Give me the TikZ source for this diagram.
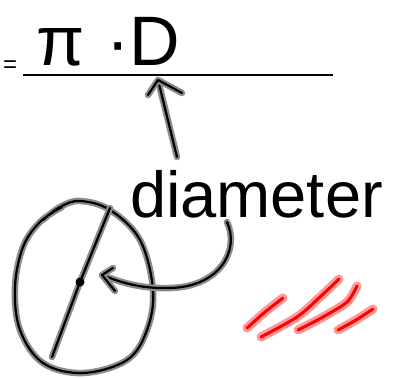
\documentclass[tikz,border=0pt]{standalone}
\usepackage{fontspec}
\setmainfont{Liberation Sans}
\tikzset{
  ink/.style={line width=2.2pt, draw=black, line cap=round, line join=round,
    preaction={draw=black!45, line width=6.5pt, line cap=round, line join=round}},
  redink/.style={line width=3pt, draw=red, line cap=round, line join=round,
    preaction={draw=red!40, line width=9pt, line cap=round, line join=round}},
  word/.style={inner sep=0pt, outer sep=0pt, text=black}
}
\begin{document}
\begin{tikzpicture}[x=1pt,y=-1pt]
\useasboundingbox[fill=white] (0,0) rectangle (401,377);
% formula
\node[word, anchor=base west, font=\fontsize{24}{24}\selectfont] (eq) at (3,73) {=};
\coordinate (l1) at (23,75);
\coordinate (l2) at (333,75);
\draw[line width=1.2pt] (l1) -- (l2);
\node[word, anchor=base west, font=\fontsize{70}{70}\selectfont] (formula) at (36,66) {π\hspace{22pt}·D};
% label
\node[word, anchor=base west, font=\fontsize{65}{65}\selectfont] (diam) at (130,217) {diameter};
% up arrow
\coordinate (tail) at (177,157);
\coordinate (tip) at (158,80);
\coordinate (b1) at (148,95);
\coordinate (b2) at (182,93);
\draw[ink] (tail) -- (tip);
\draw[ink] (b1) -- (tip) -- (b2);
% circle
\draw[ink] plot[smooth, tension=0.6] coordinates {(43,220) (60,207) (80,201) (110,210) (140,240) (153,290) (147,330) (127,360) (83,373) (43,363) (20,330) (15,287) (23,247) (40,222) (62,207)};
\coordinate (ctr) at (80,282);
\coordinate (dtop) at (110,208);
\coordinate (dbot) at (52,357);
\draw[ink] (dtop) -- (ctr) -- (dbot);
\fill[black] (ctr) circle (4.5);
% curved arrow
\coordinate (cstart) at (227,222);
\coordinate (ctip) at (102,275);
\coordinate (c1) at (113,268);
\coordinate (c2) at (115,291);
\draw[ink] (cstart) .. controls (240,250) and (220,287) .. (170,288) .. controls (140,289) and (120,282) .. (ctip);
\draw[ink] (c1) -- (ctip) -- (c2);
% red strokes
\draw[redink] plot[smooth] coordinates {(247,328) (265,312) (283,298)};
\draw[redink] plot[smooth] coordinates {(261,337) (297,317) (320,297) (339,279)};
\draw[redink] plot[smooth] coordinates {(298,330) (323,317) (347,302) (357,286)};
\draw[redink] plot[smooth] coordinates {(338,330) (356,320) (373,309)};
\end{tikzpicture}
\end{document}
